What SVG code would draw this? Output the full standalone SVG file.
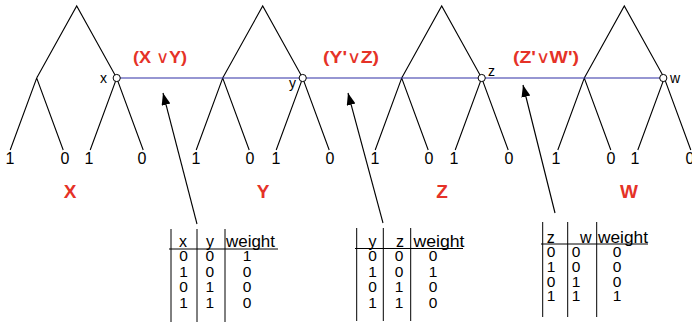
<svg xmlns="http://www.w3.org/2000/svg" width="692" height="324" viewBox="0 0 692 324">
<style>
.e{stroke:#000;stroke-width:1.1;fill:none}
.t{font-family:"Liberation Sans",Arial,sans-serif;fill:#000}
.leaf{font-size:16px;text-anchor:middle}
.nl{font-size:14px}
.red{font-family:"Liberation Sans",Arial,sans-serif;fill:#e53227;font-weight:bold;text-anchor:middle}
.big{font-size:19px}
.fl{font-size:17px}
.thin{font-weight:normal}
.hd{font-size:16px;text-anchor:middle}
.cell{font-size:15.5px;text-anchor:middle}
.tl{stroke:#000;stroke-width:1;fill:none}
.blue{stroke:#2e2ea6;stroke-width:1.2;fill:none}
.arr{stroke:#000;stroke-width:1.1;fill:none}
.node{fill:#fff;stroke:#000;stroke-width:1}
</style>
<defs>
<marker id="ah" markerUnits="userSpaceOnUse" markerWidth="13" markerHeight="10" refX="12" refY="4.5" orient="auto">
<path d="M0,0 L12,4.5 L0,9 z" fill="#000"/>
</marker>
</defs>

<g id="tree-X">
<path class="e" d="M36.7,78 L76.7,6 L116.7,78 M10.2,150 L36.7,78 L63.2,150 M90.2,150 L116.7,78 L143.2,150"/>
<g class="t leaf"><text x="10" y="164">1</text><text x="65" y="164">0</text><text x="89" y="164">1</text><text x="142" y="164">0</text></g>
<text class="red big" x="70" y="198">X</text>
</g>

<g id="tree-Y">
<path class="e" d="M222.7,78 L262.7,6 L302.7,78 M196.2,150 L222.7,78 L249.2,150 M276.2,150 L302.7,78 L329.2,150"/>
<g class="t leaf"><text x="196" y="164">1</text><text x="250" y="164">0</text><text x="276" y="164">1</text><text x="330" y="164">0</text></g>
<text class="red big" x="263" y="198">Y</text>
</g>

<g id="tree-Z">
<path class="e" d="M401.7,78 L441.7,6 L481.7,78 M375.2,150 L401.7,78 L428.2,150 M455.2,150 L481.7,78 L508.2,150"/>
<g class="t leaf"><text x="375" y="164">1</text><text x="429" y="164">0</text><text x="454" y="164">1</text><text x="509" y="164">0</text></g>
<text class="red big" x="442" y="198">Z</text>
</g>

<g id="tree-W">
<path class="e" d="M584.3,78 L624.3,6 L664.3,78 M557.8,150 L584.3,78 L610.8,150 M637.8,150 L664.3,78 L690.8,150"/>
<g class="t leaf"><text x="556" y="164">1</text><text x="611" y="164">0</text><text x="635" y="164">1</text><text x="690" y="164">0</text></g>
<text class="red big" x="629" y="198">W</text>
</g>

<g id="connectors">
<line class="blue" x1="116.7" y1="78" x2="663.3" y2="78"/>
<line class="arr" x1="197" y1="224" x2="163" y2="93" marker-end="url(#ah)"/>
<line class="arr" x1="383" y1="223" x2="348" y2="93" marker-end="url(#ah)"/>
<line class="arr" x1="555" y1="213" x2="523" y2="85" marker-end="url(#ah)"/>
</g>

<g id="node-x"><circle class="node" cx="116.7" cy="78" r="3.6"/><text class="t nl" x="100" y="83">x</text></g>
<g id="node-y"><circle class="node" cx="302.7" cy="78" r="3.6"/><text class="t nl" x="289" y="88">y</text></g>
<g id="node-z"><circle class="node" cx="481.7" cy="78" r="3.6"/><text class="t nl" x="488" y="76">z</text></g>
<g id="node-w"><circle class="node" cx="663.3" cy="78" r="3.6"/><text class="t nl" x="670" y="83">w</text></g>

<g id="factor-labels">
<text class="red fl" x="160" y="63" textLength="54" lengthAdjust="spacingAndGlyphs">(X <tspan class="thin">∨</tspan>Y)</text>
<text class="red fl" x="351" y="63" textLength="56" lengthAdjust="spacingAndGlyphs">(Y'<tspan class="thin">∨</tspan>Z)</text>
<text class="red fl" x="546" y="63" textLength="66" lengthAdjust="spacingAndGlyphs">(Z'<tspan class="thin">∨</tspan>W')</text>
</g>

<g id="table-XY">
<path class="tl" d="M171,229 V322 M197,229 V322 M225,229 V322 M169,249 H278"/>
<g class="t hd"><text x="183" y="247">x</text><text x="210" y="247">y</text><text x="250.5" y="247" textLength="49" lengthAdjust="spacingAndGlyphs">weight</text></g>
<g class="t cell">
<text x="183.5" y="261">0</text><text x="209.7" y="261">0</text><text x="247" y="261">1</text>
<text x="183.5" y="276.5">1</text><text x="209.7" y="276.5">0</text><text x="247" y="276.5">0</text>
<text x="183.5" y="292">0</text><text x="209.7" y="292">1</text><text x="247" y="292">0</text>
<text x="183.5" y="307.5">1</text><text x="209.7" y="307.5">1</text><text x="247" y="307.5">0</text>
</g>
</g>

<g id="table-YZ">
<path class="tl" d="M356.7,228 V321 M383.3,228 V321 M410.7,228 V321 M355,248.5 H463"/>
<g class="t hd"><text x="372.5" y="246.5">y</text><text x="400" y="246.5">z</text><text x="439" y="246.5" textLength="51" lengthAdjust="spacingAndGlyphs">weight</text></g>
<g class="t cell">
<text x="372.5" y="261">0</text><text x="399" y="261">0</text><text x="433" y="261">0</text>
<text x="372.5" y="276.5">1</text><text x="399" y="276.5">0</text><text x="433" y="276.5">1</text>
<text x="372.5" y="292">0</text><text x="399" y="292">1</text><text x="433" y="292">0</text>
<text x="372.5" y="307.5">1</text><text x="399" y="307.5">1</text><text x="433" y="307.5">0</text>
</g>
</g>

<g id="table-ZW">
<path class="tl" d="M542.7,222 V317 M567.7,222 V317 M596.7,222 V317 M541,244 H648"/>
<g class="t hd"><text x="550.8" y="242.5">z</text><text x="585.8" y="242.5">w</text><text x="623" y="242.5" textLength="50" lengthAdjust="spacingAndGlyphs">weight</text></g>
<g class="t cell">
<text x="551" y="257">0</text><text x="576" y="257">0</text><text x="617" y="257">0</text>
<text x="551" y="272">1</text><text x="576" y="272">0</text><text x="617" y="272">0</text>
<text x="551" y="286.5">0</text><text x="576" y="286.5">1</text><text x="617" y="286.5">0</text>
<text x="551" y="301">1</text><text x="576" y="301">1</text><text x="617" y="301">1</text>
</g>
</g>
</svg>
